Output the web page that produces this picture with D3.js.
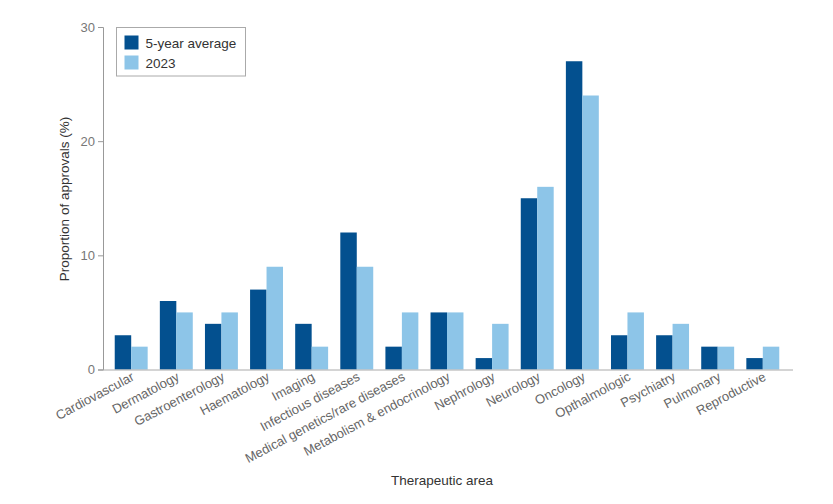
<!DOCTYPE html>
<html>
<head>
<meta charset="utf-8">
<script src="https://cdn.jsdelivr.net/npm/d3@7"></script>
<style>
  body { margin: 0; background: #fff; }
  svg { font-family: "Liberation Sans", Arial, sans-serif; }
</style>
</head>
<body>
<div id="container"></div>
<script>
  var areas = ["Cardiovascular", "Dermatology", "Gastroenterology", "Haematology", "Imaging",
    "Infectious diseases", "Medical genetics/rare diseases", "Metabolism & endocrinology",
    "Nephrology", "Neurology", "Oncology", "Opthalmologic", "Psychiatry", "Pulmonary", "Reproductive"];
  var avg5 = [3, 6, 4, 7, 4, 12, 2, 5, 1, 15, 27, 3, 3, 2, 1];
  var y2023 = [2, 5, 5, 9, 2, 9, 5, 5, 4, 16, 24, 5, 4, 2, 2];
  var seriesNames = ["5-year average", "2023"];
  var yTicks = [0, 10, 20, 30];

  var width = 833, height = 504;
  var colors = ["#03508f", "#8dc5e8"];

  var svg = d3.select("#container").append("svg")
    .attr("width", width)
    .attr("height", height);

  var x = d3.scaleBand().domain(areas).range([103, 791]).paddingInner(0.27).paddingOuter(0.26);
  var xs = d3.scaleBand().domain([0, 1]).range([0, x.bandwidth()]);
  var y = d3.scaleLinear().domain([0, 30]).range([369.5, 27]);

  // bars
  var groups = svg.append("g").selectAll("g")
    .data(areas)
    .join("g")
    .attr("transform", function(d) { return "translate(" + x(d) + ",0)"; });
  groups.selectAll("rect")
    .data(function(d, i) { return [avg5[i], y2023[i]]; })
    .join("rect")
    .attr("x", function(d, j) { return xs(j); })
    .attr("y", function(d) { return y(d); })
    .attr("width", xs.bandwidth())
    .attr("height", function(d) { return y(0) - y(d); })
    .attr("fill", function(d, j) { return colors[j]; });

  // y axis
  var yAxis = svg.append("g")
    .attr("transform", "translate(103,0)")
    .call(d3.axisLeft(y).tickValues(yTicks).tickSize(5).tickPadding(3));
  yAxis.select(".domain").attr("stroke", "#999");
  yAxis.selectAll(".tick line").attr("stroke", "#999");
  yAxis.selectAll(".tick text").attr("fill", "#777").style("font-size", "13px");

  // x axis
  var xAxis = svg.append("g")
    .attr("transform", "translate(0," + y(0) + ")")
    .call(d3.axisBottom(x).tickSize(0).tickSizeOuter(0).tickPadding(0));
  xAxis.select(".domain").attr("stroke", "#aaa").attr("d", "M103,0.5H793");
  xAxis.selectAll(".tick text")
    .attr("fill", "#666")
    .style("font-size", "13px")
    .attr("text-anchor", "end")
    .attr("dy", null)
    .attr("y", 0)
    .attr("transform", "translate(4,10) rotate(-28)");

  // axis titles
  svg.append("text")
    .attr("x", 442).attr("y", 485)
    .attr("text-anchor", "middle")
    .attr("fill", "#333")
    .style("font-size", "13.5px")
    .text("Therapeutic area");
  svg.append("text")
    .attr("transform", "translate(69,199) rotate(-90)")
    .attr("text-anchor", "middle")
    .attr("fill", "#333")
    .style("font-size", "13.5px")
    .text("Proportion of approvals (%)");

  // legend
  var legend = svg.append("g").attr("transform", "translate(116.5,27.5)");
  legend.append("rect")
    .attr("width", 129).attr("height", 48.5)
    .attr("fill", "#fff").attr("stroke", "#aaa");
  seriesNames.forEach(function(name, i) {
    legend.append("rect")
      .attr("x", 8).attr("y", 8 + i * 20)
      .attr("width", 14).attr("height", 14)
      .attr("fill", colors[i]);
    legend.append("text")
      .attr("x", 29).attr("y", 20 + i * 20)
      .attr("fill", "#333")
      .style("font-size", "13.5px")
      .text(name);
  });
</script>
</body>
</html>
